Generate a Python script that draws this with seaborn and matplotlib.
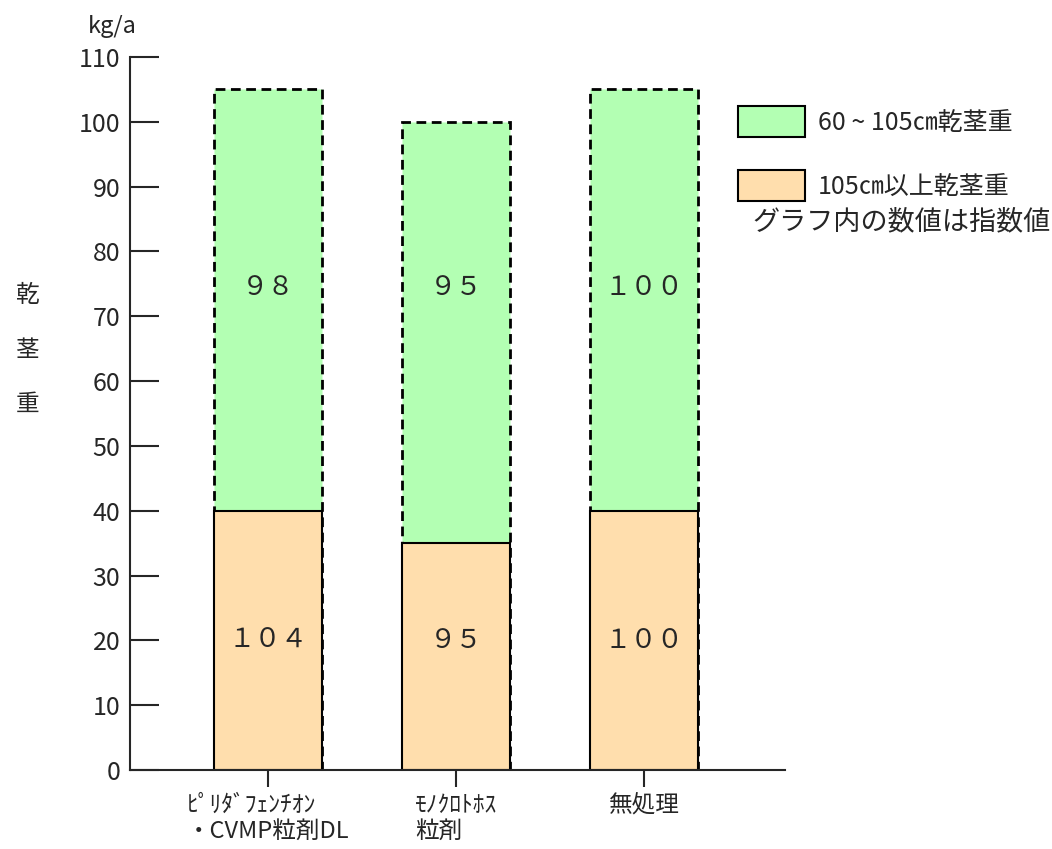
import matplotlib
matplotlib.use("Agg")
import matplotlib.pyplot as plt
import seaborn as sns
from matplotlib.patches import Patch

# Dry stem weight (kg/a) by treatment, split by stem length class
treatments = ["ﾋﾟﾘﾀﾞﾌｪﾝﾁｵﾝ\n・CVMP粒剤DL", "ﾓﾉｸﾛﾄﾎｽ\n粒剤", "無処理"]
weight_over_105 = [40, 35, 40]      # 105cm and longer
weight_60_105 = [65, 65, 65]        # 60-105cm
index_over_105 = ["１０４", "９５", "１００"]
index_60_105 = ["９８", "９５", "１００"]
legend_labels = ["60 ~ 105㎝乾茎重", "105㎝以上乾茎重"]
y_ticks = list(range(0, 111, 10))

GREEN = "#b3ffb3"
ORANGE = "#ffdead"

sns.set_style("ticks")
plt.rcParams["font.family"] = ["Noto Sans CJK JP", "DejaVu Sans"]

fig = plt.figure(figsize=(10.52, 8.49), dpi=100)
ax = fig.add_axes([130 / 1052, 1 - 770 / 849, 655 / 1052, 713 / 849])

stack_top = [a + b for a, b in zip(weight_over_105, weight_60_105)]

# Full stack first (dashed outline), then the lower class on top of it
sns.barplot(x=treatments, y=stack_top, color=GREEN, saturation=1,
            edgecolor="black", linewidth=2, linestyle=(0, (3.5, 2)),
            width=0.574, ax=ax)
sns.barplot(x=treatments, y=weight_over_105, color=ORANGE, saturation=1,
            edgecolor="black", linewidth=1.5, width=0.574, ax=ax)

for i in range(len(treatments)):
    ax.text(i, 74.5, index_60_105[i], ha="center", va="center", fontsize=19)
    ax.text(i, 20, index_over_105[i], ha="center", va="center", fontsize=19)

ax.set_xlim(-0.734, 2.75)
ax.set_ylim(0, 110)
ax.set_yticks(y_ticks)
ax.set_xlabel("")
sns.despine(ax=ax)
for side in ("left", "bottom"):
    ax.spines[side].set_linewidth(1.5)

ax.tick_params(axis="y", direction="in", length=21, width=1.5,
               labelsize=18, pad=7)
ax.tick_params(axis="x", direction="inout", length=24, width=1.5,
               labelsize=17, pad=5)
for lbl in ax.get_xticklabels():
    lbl.set_multialignment("left")
    lbl.set_linespacing(1.2)

ax.set_ylabel("乾\n茎\n重", rotation=0, fontsize=17, linespacing=2.75,
              va="center", ha="center")
ax.yaxis.set_label_coords(-0.156, 0.589)

fig.text(112 / 1052, 1 - 26 / 849, "kg/a", ha="center", va="center",
         fontsize=17)

handles = [Patch(facecolor=GREEN, edgecolor="black", linewidth=1.5),
           Patch(facecolor=ORANGE, edgecolor="black", linewidth=1.5)]
fig.legend(handles, legend_labels, loc="upper left",
           bbox_to_anchor=(738 / 1052, 1 - 106 / 849), frameon=False,
           fontsize=18, handlelength=2.68, handleheight=1.53,
           labelspacing=1.32, handletextpad=0.5, borderpad=0,
           borderaxespad=0)
fig.text(752 / 1052, 1 - 222 / 849, "グラフ内の数値は指数値",
         ha="left", va="center", fontsize=19.5)

fig.savefig("out.png", dpi=100)
